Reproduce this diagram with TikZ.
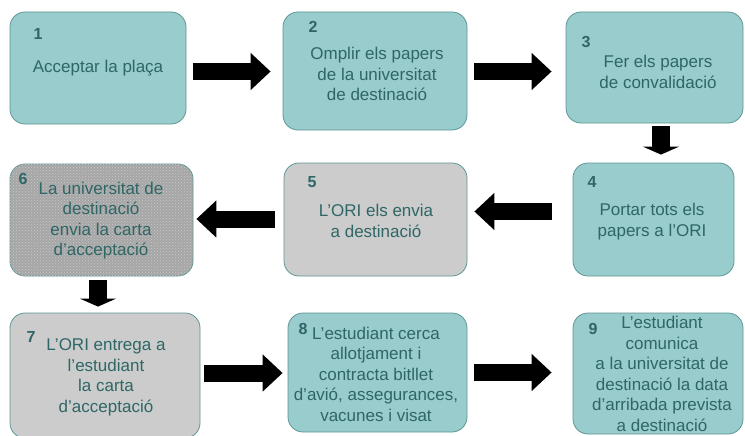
\documentclass[tikz,border=0pt]{standalone}
\usepackage{fontspec}
\setmainfont{Liberation Sans}
\usetikzlibrary{arrows.meta,calc,patterns}
\definecolor{tealfill}{HTML}{99CCCC}
\definecolor{tealline}{HTML}{5F9696}
\definecolor{tealtext}{HTML}{2F6666}
\definecolor{greyfill}{HTML}{CCCCCC}
\definecolor{darkgrey}{HTML}{A6A6A6}
\definecolor{dotgrey}{HTML}{C8C8C8}
\tikzset{
  box/.style={draw=tealline, line width=0.8pt, rounded corners=15pt, inner sep=0pt},
  tealbox/.style={box, fill=tealfill},
  greybox/.style={box, fill=greyfill},
  dotbox/.style={box, fill=darkgrey, postaction={pattern=crosshatch dots, pattern color=dotgrey}},
  txt/.style={font=\fontsize{17}{20.5}\selectfont, text=tealtext, align=center, inner sep=0pt},
  num/.style={font=\fontsize{16}{18}\selectfont\bfseries, text=tealtext, inner sep=0pt},
  barrow/.style={draw=black, line width=17pt, -{Triangle[length=20pt, width=36pt]}},
  darrow/.style={draw=black, line width=18pt, -{Triangle[length=8pt, width=36pt]}}
}
\begin{document}
\begin{tikzpicture}[x=1pt, y=-1pt]
\clip (0,0) rectangle (745,436);
\fill[white] (0,0) rectangle (745,436);
% boxes
\node[tealbox, minimum width=176pt, minimum height=112pt] (b1) at (98,68) {};
\node[tealbox, minimum width=184pt, minimum height=118pt] (b2) at (375,71) {};
\node[tealbox, minimum width=177pt, minimum height=111pt] (b3) at (654.5,67.5) {};
\node[tealbox, minimum width=161pt, minimum height=113pt] (b4) at (653.5,219.5) {};
\node[greybox, minimum width=183pt, minimum height=113pt] (b5) at (375.5,219.5) {};
\node[dotbox, minimum width=183pt, minimum height=112pt] (b6) at (101.5,220) {};
\node[greybox, minimum width=190pt, minimum height=125pt] (b7) at (105,375.5) {};
\node[tealbox, minimum width=179pt, minimum height=119pt] (b8) at (377.5,372.5) {};
\node[tealbox, minimum width=170pt, minimum height=121pt] (b9) at (658,373.5) {};
% numbers
\node[num] (n1) at (38,34) {1};
\node[num] (n2) at (313,27) {2};
\node[num] (n3) at (586,42) {3};
\node[num] (n4) at (592,182) {4};
\node[num] (n5) at (312,182) {5};
\node[num] (n6) at (23,179) {6};
\node[num] (n7) at (31,337) {7};
\node[num] (n8) at (303,329) {8};
\node[num] (n9) at (593,329) {9};
% texts
\node[txt] (t1) at (98,68) {Acceptar la plaça};
\node[txt] (t2) at (377,74) {Omplir els papers\\de la universitat\\de destinació};
\node[txt] (t3) at (658,72) {Fer els papers\\de convalidació};
\node[txt] (t4) at (652,221.5) {Portar tots els\\papers a l’ORI};
\node[txt] (t5) at (376,221) {L’ORI els envia\\a destinació};
\node[txt] (t6) at (101,220.5) {La universitat de\\destinació\\envia la carta\\d’acceptació};
\node[txt] (t7) at (106,377.5) {L’ORI entrega a\\l’estudiant\\la carta\\d’acceptació};
\node[txt] (t8) at (376,374) {L’estudiant cerca\\allotjament i\\contracta bitllet\\d’avió, assegurances,\\vacunes i visat};
\node[txt] (t9) at (662,373.8) {L’estudiant\\comunica\\a la universitat de\\destinació la data\\d’arribada prevista\\a destinació};
% arrows
\draw[barrow] ($(b1.east)+(7,3.5)$) -- ($(b2.west)+(-12,0.5)$);
\draw[barrow] ($(b2.east)+(7,0.5)$) -- ($(b3.west)+(-14,4)$);
\draw[darrow] ($(b3.south)+(6.5,3)$) -- ($(b4.north)+(7.5,-8)$);
\draw[barrow] ($(b4.west)+(-21,-8)$) -- ($(b5.east)+(7,-8)$);
\draw[barrow] ($(b5.west)+(-9,-0.5)$) -- ($(b6.east)+(3,-1)$);
\draw[darrow] ($(b6.south)+(-3.5,4)$) -- ($(b7.north)+(-7,-6)$);
\draw[barrow] ($(b7.east)+(4,-2.5)$) -- ($(b8.west)+(-5,0.5)$);
\draw[barrow] ($(b8.east)+(7,0)$) -- ($(b9.west)+(-21,-1)$);
\end{tikzpicture}
\end{document}
